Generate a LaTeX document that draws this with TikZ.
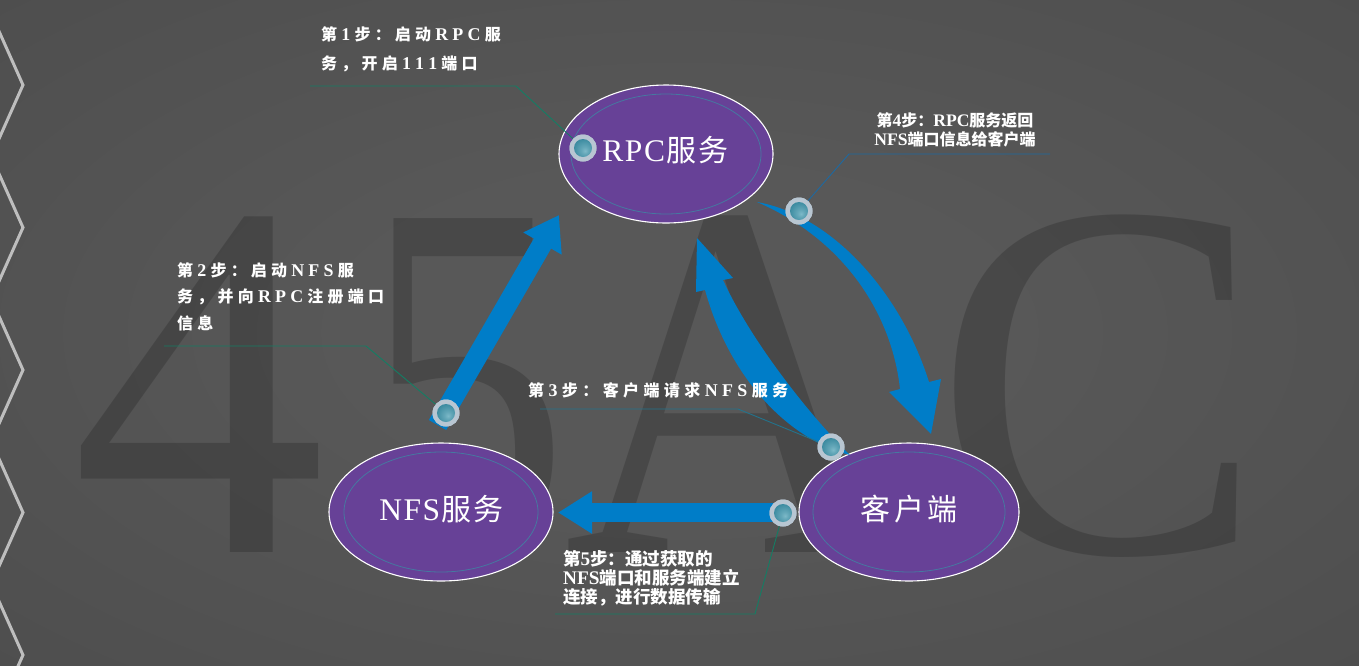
\documentclass[tikz,border=0pt]{standalone}
\usepackage{fontspec}
\usepackage{graphicx}
\usetikzlibrary{arrows.meta,shapes.geometric}
\setmainfont{Liberation Serif}
\newfontfamily\bigf{Liberation Serif}
\newfontfamily\cjkS{Noto Sans CJK SC}
\newfontfamily\latS[Scale=1.12]{Liberation Serif}
\newfontfamily\cjkT{Noto Sans CJK SC}
\newfontfamily\latT[Scale=1.1]{Liberation Serif}
\newfontfamily\cjkE{Noto Sans CJK SC}
\newfontfamily\latE[Scale=1.05]{Liberation Serif}
\newcommand\lsB[1]{{\latT #1}}
\makeatletter
\newcommand\spcx[3]{\@tfor\spcch:=#3\do{\ifnum\expandafter`\spcch<"2000\relax{#2\spcch}\else\spcch\fi\kern#1}}
\makeatother
\definecolor{bgin}{RGB}{88,88,88}
\definecolor{bgmid}{RGB}{72,72,72}
\definecolor{bgout}{RGB}{62,62,62}
\definecolor{purp}{RGB}{103,65,151}
\definecolor{innerl}{RGB}{70,120,160}
\definecolor{arrowblue}{RGB}{0,125,200}
\definecolor{ringc}{RGB}{184,198,210}
\definecolor{ballin}{RGB}{125,185,200}
\definecolor{ballout}{RGB}{40,125,148}
\definecolor{leadg}{RGB}{20,125,100}
\definecolor{leadb}{RGB}{30,105,160}
\definecolor{leadt}{RGB}{35,115,140}
\definecolor{chev}{RGB}{190,190,190}
\pgfdeclareradialshading{bgshade}{\pgfpoint{0bp}{0bp}}{color(0bp)=(bgin); color(12bp)=(bgin); color(50bp)=(bgmid); color(72bp)=(bgout)}
\pgfdeclareradialshading{ballshade}{\pgfpoint{6bp}{-8bp}}{color(0bp)=(ballin); color(10bp)=(ballin!70!ballout); color(40bp)=(ballout); color(60bp)=(ballout)}
\tikzset{
  bigl/.style={font=\bigf\fontsize{510}{510}\selectfont, text=black, text opacity=0.18, inner sep=0, anchor=base},
  chevst/.style={draw=chev, line width=3pt, line join=miter},
  ell/.style={ellipse, fill=purp, draw=white, line width=1.1pt, minimum height=138pt, inner sep=0},
  inl/.style={draw=innerl, line width=0.8pt},
  ellt/.style={font=\cjkE\fontsize{30}{30}\selectfont, text=white, inner sep=0},
  blue arrow/.style={draw=arrowblue},
  blue fill/.style={fill=arrowblue},
  lead/.style={line width=0.9pt},
  dotring/.style={circle, fill=ringc, minimum size=27pt, inner sep=0},
  sA/.style={font=\cjkS\bfseries\fontsize{16}{28.5}\selectfont, text=white, align=left, inner sep=0},
  sT/.style={font=\cjkT\bfseries\fontsize{16}{19.5}\selectfont, text=white, inner sep=0},
}
\begin{document}
\begin{tikzpicture}[x=1pt,y=-1pt]
\useasboundingbox (0,0) rectangle (1359,665);
\shade[shading=bgshade] (0,0) rectangle (1359,665);
% background letters
\node[bigl] (L4) at (199,552) {4};
\node[bigl] (L5) at (465,552) {\scalebox{0.82}[1]{5}};
\node[bigl] (LA) at (730,552) {\scalebox{0.9}[1]{A}};
\node[bigl] (LC) at (1099,552) {\scalebox{0.97}[1]{C}};
% chevrons
\foreach \k in {0,...,4}{
  \draw[chevst] (-5,{85+142.5*\k-62.7}) -- (23,{85+142.5*\k}) -- (-5,{85+142.5*\k+62.7});
}
% ellipses
\node[ell, minimum width=214pt] (rpc) at (666,154) {};
\node[ell, minimum width=220pt] (cli) at (909,512) {};
\node[ell, minimum width=224pt] (nfs) at (441,512) {};
\draw[inl] (rpc.center) ellipse [x radius=95, y radius=60];
\draw[inl] (cli.center) ellipse [x radius=96, y radius=60];
\draw[inl] (nfs.center) ellipse [x radius=97, y radius=60];
\node[ellt] (rpct) at (666,150) {\spcx{1.5pt}{\latE}{RPC服务}};
\node[ellt] (nfst) at (442,509) {\spcx{1.5pt}{\latE}{NFS服务}};
\node[ellt] (clit) at (911,509) {\spcx{4pt}{\latE}{客户端}};
% arrow A (step 2)
\coordinate (aA1) at (437.5,425);
\coordinate (aA2) at (559,215);
\draw[blue arrow, line width=20pt, -{Triangle[length=33pt,width=42pt]}] (aA1) -- (aA2);
% arrow D (step 5)
\coordinate (aD1) at (783,512.5);
\coordinate (aD2) at (558,512.5);
\draw[blue arrow, line width=19pt, -{Triangle[length=34pt,width=40pt]}] (aD1) -- (aD2);
% arrow B (step 4)
\coordinate (bS) at (757,202);
\coordinate (bHo) at (929,382);
\coordinate (bR) at (941,379);
\coordinate (bT) at (931,434);
\coordinate (bL) at (889,392);
\coordinate (bHi) at (900,389);
\fill[blue fill] (bS) .. controls (830,215) and (900,290) .. (bHo) -- (bR) -- (bT) -- (bL) -- (bHi) .. controls (892,315) and (845,240) .. (bS) -- cycle;
% arrow C (step 3)
\coordinate (cS) at (850,455);
\coordinate (cHo) at (705,290);
\coordinate (cL) at (696,292);
\coordinate (cT) at (697,238);
\coordinate (cR) at (733,278);
\coordinate (cHi) at (723,280);
\fill[blue fill] (cS) .. controls (790,440) and (730,380) .. (cHo) -- (cL) -- (cT) -- (cR) -- (cHi) .. controls (752,343) and (812,418) .. (cS) -- cycle;
% dots
\node[dotring] (d1) at (583,148) {};
\node[dotring] (d2) at (446,413) {};
\node[dotring] (d3) at (831,447) {};
\node[dotring] (d4) at (799,211) {};
\node[dotring] (d5) at (783,513) {};
% leader lines
\coordinate (l1s) at (310,86);  \coordinate (l1k) at (516,86);
\coordinate (l2s) at (164,346); \coordinate (l2k) at (366,346);
\coordinate (l3s) at (540,409); \coordinate (l3k) at (738,409);
\coordinate (l4s) at (1050,154); \coordinate (l4k) at (849,154);
\coordinate (l5s) at (555,614); \coordinate (l5k) at (755,614);
\draw[lead, draw=leadg] (l1s) -- (l1k) -- (d1);
\draw[lead, draw=leadg] (l2s) -- (l2k) -- (d2);
\draw[lead, draw=leadt] (l3s) -- (l3k) -- (d3);
\draw[lead, draw=leadb] (l4s) -- (l4k) -- (d4);
\draw[lead, draw=leadg] (l5s) -- (l5k) -- (d5);
\foreach \d in {d1,d2,d3,d4,d5}{
  \node[dotring] at (\d) {};
  \shade[shading=ballshade] (\d.center) circle (9);
}
% step labels
\node[sA, anchor=north west] (t1) at (321,26.5) {\spcx{4.2pt}{\latS}{第1步：启动RPC服}\\\spcx{4.2pt}{\latS}{务，开启111端口}};
\node[sA, font=\cjkS\bfseries\fontsize{16}{26.5}\selectfont, anchor=north west] (t2) at (177,262) {\spcx{4.2pt}{\latS}{第2步：启动NFS服}\\\spcx{4.2pt}{\latS}{务，并向RPC注册端口}\\\spcx{4.2pt}{\latS}{信息}};
\node[sA, anchor=north west] (t3) at (528,382) {\spcx{4.4pt}{\latS}{第3步：客户端请求NFS服务}};
\node[sT, align=center, anchor=north] (t4) at (955,112) {第\lsB{4}步：\lsB{RPC}服务返回\\\lsB{NFS}端口信息给客户端};
\node[sT, font=\cjkT\bfseries\fontsize{17.5}{19}\selectfont, align=left, anchor=north west] (t5) at (563,550) {第\lsB{5}步：通过获取的\\\lsB{NFS}端口和服务端建立\\连接，进行数据传输};
\end{tikzpicture}
\end{document}
